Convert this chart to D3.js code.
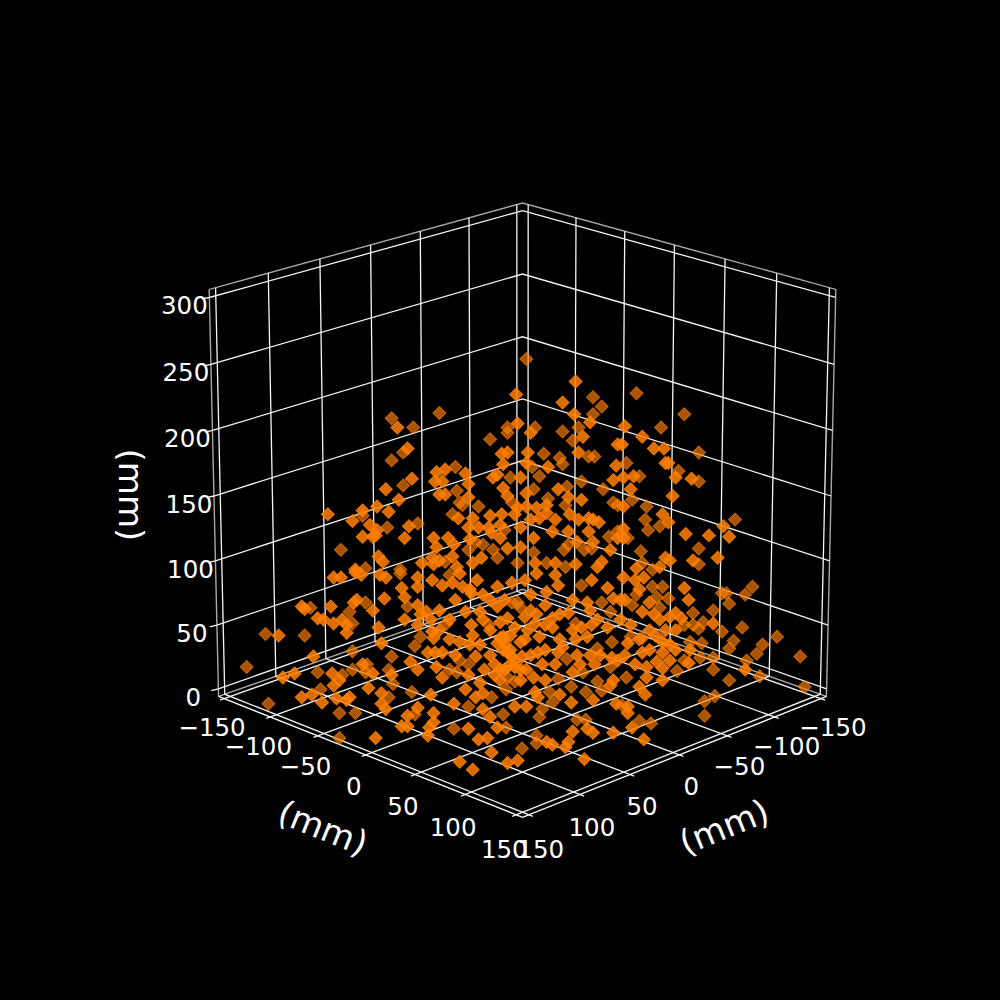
<!DOCTYPE html>
<html>
<head>
<meta charset="utf-8">
<script src="https://cdn.jsdelivr.net/npm/d3@7"></script>
<style>
  html, body { margin: 0; padding: 0; background: #000; }
  text { font-family: "DejaVu Sans"; fill: #fff; }
</style>
</head>
<body>
<div id="chart"></div>
<script>
// tick values (mm)
const leftTicks = [-150, -100, -50, 0, 50, 100, 150];
const rightTicks = [-150, -100, -50, 0, 50, 100, 150];
const heightTicks = [0, 50, 100, 150, 200, 250, 300];

// Points. One view cannot give depth, so each point is
// kept as mm across and up the vertical plane through the middle of the box.
// rear = the dimmer points, front = the brighter ones.
const rearAcross = [-90,-75,-82,-90,-57,-82,-110,-72,-93,-125,-108,-84,
  3,49,55,49,-10,-10,9,28,-22,39,35,46,50,15,26,28,7,12,-8,41,-46,56,31,8,-45,18,30,-43,-41,-30,63,66,-7,-48,-12,66,60,32,29,43,48,8,-27,-20,-32,-37,-17,30,17,-3,-53,
  79,112,96,122,72,108,122,81,76,86,85,95,87,147,73,122,82,122,90,83,
  -84,-108,-146,-119,-79,-117,-177,-150,-70,-74,-117,-90,-190,-107,-117,-141,-92,-108,-124,-89,-76,-139,-92,-175,-126,-115,-74,-126,
  -50,41,55,-3,-7,-1,-52,-23,37,61,62,52,31,-43,61,-37,-50,-45,42,25,-5,-10,52,34,44,55,-11,19,-21,21,-37,14,12,-13,38,44,-11,-47,10,10,0,
  159,154,141,138,143,97,90,93,101,79,76,95,118,132,112,125,122,118,152,138,176,146,166,143,162,192,116,124,83,75,123,132,112,107,132,155,164,143,72,195,133,126,126,69,81,89];
const rearRise = [208,201,182,176,212,157,134,128,125,108,94,93,
  253,224,217,211,201,197,201,198,192,201,191,179,179,181,178,173,171,164,163,160,171,154,156,154,153,147,142,144,142,141,144,142,144,135,123,122,118,112,108,108,109,106,112,108,114,108,102,95,98,98,99,
  227,211,201,182,174,168,160,164,146,141,131,126,123,131,117,109,107,97,93,98,
  90,68,64,61,65,52,44,43,42,35,31,27,19,21,17,15,17,15,13,6,0,2,-4,-9,-16,-16,-17,-35,
  89,81,68,68,68,64,52,51,52,61,38,33,25,24,19,21,17,15,15,10,8,11,8,4,0,1,2,0,-4,-8,-11,-13,-19,-17,-21,-21,-27,-28,-33,-39,-43,
  80,74,75,75,67,80,80,72,71,74,66,64,60,62,51,53,48,51,49,46,42,39,36,33,29,27,38,37,41,42,26,26,24,16,17,24,12,9,11,4,-3,-7,-18,-10,-22,-24];
const frontAcross = [-86,-79,-76,-94,-59,-60,-57,-85,-100,-110,-92,-134,-117,-78,-105,-100,-101,-110,-103,-81,-61,-59,-99,-96,-115,-69,-62,-61,
  37,-4,28,36,47,-3,6,42,66,-10,-14,4,39,-13,18,3,65,-17,-20,-1,63,-53,-39,-55,-37,25,-13,3,-10,-53,-37,32,41,17,3,10,-3,-5,-14,-22,-34,-44,-37,-30,12,33,17,39,46,53,49,-23,-1,21,32,46,66,38,49,8,-21,-15,-51,-47,-10,-1,-48,-28,9,23,37,55,52,-34,-45,
  71,83,91,98,69,101,99,106,117,77,70,75,104,70,97,101,139,113,129,143,70,70,135,118,102,99,95,79,
  -130,-125,-115,-111,-98,-94,-72,-83,-81,-72,-62,-95,-114,-116,-132,-152,-150,-103,-72,-66,-141,-137,-81,-124,-130,-121,-99,-72,-168,-121,-62,-61,-97,-144,-65,-60,-110,-77,-72,-59,-103,-131,-90,-165,-157,-126,-130,-106,-63,-152,-145,-97,-128,-119,-121,-138,-97,-94,-72,-61,-79,-83,-79,-64,-61,-65,-101,
  -43,-31,-48,-55,-35,-27,-41,-17,-7,2,10,23,25,17,6,35,48,45,59,63,-17,16,-35,-27,-15,-10,2,10,9,21,26,32,52,48,59,41,45,35,21,-5,4,-50,-43,-34,-15,-13,-17,-1,12,28,25,38,11,54,-55,-32,-13,-7,0,62,66,-37,-55,-19,-12,-5,3,14,35,8,-29,-15,63,61,-39,26,9,11,-27,-32,34,49,65,-47,-27,-22,-5,3,-17,45,49,-37,35,17,21,32,30,63,-30,-24,-21,-43,-34,-10,-3,43,
  -13,-10,-5,-10,-15,-1,-12,-8,
  112,115,84,78,70,71,88,83,91,102,106,110,132,97,102,73,83,97,106,115,102,93,86,97,154,97,86,81,85,73,73,76,84,
  -36,-22,-46,-57,-39,-29,-12,6,16,47,68,75,81,88,92,71,78,26,37,47,-29,-22,-36,-46,-63,-70,-57,-50,-19,-26,-1,16,23,40,50,2,6,16,-8,-22,-57,-36,-15,6,23,61,81,95,88,106,99,116,68];
const frontRise = [201,185,162,154,167,160,150,146,141,138,137,135,130,126,127,123,119,118,118,117,117,110,103,99,93,98,102,97,
  236,226,220,211,205,204,197,194,188,182,181,182,182,173,171,174,172,165,163,163,161,169,166,160,158,154,155,151,149,150,148,148,146,142,141,140,140,135,135,134,132,132,125,125,132,135,136,131,132,129,131,125,125,122,122,122,117,114,114,117,121,117,117,112,109,110,103,102,98,98,97,99,95,98,95,
  202,194,185,185,188,174,174,163,162,164,163,154,149,141,135,129,126,120,119,118,124,117,102,100,100,102,95,94,
  87,87,91,89,89,87,87,79,72,80,85,71,70,68,65,65,63,62,66,61,56,55,55,55,52,51,49,51,43,45,46,41,37,27,30,30,21,23,17,19,14,14,13,11,14,9,5,3,-2,-4,-2,-1,-5,-4,-6,-8,-9,-13,-12,-16,-18,-26,-26,-27,-23,-33,-35,
  90,85,83,81,75,74,80,80,83,85,90,89,81,76,74,70,85,68,79,71,65,66,51,55,53,56,57,59,52,56,59,60,55,51,49,49,42,47,49,49,47,40,38,43,41,42,37,38,42,34,30,28,30,28,30,27,32,27,27,26,24,13,11,13,17,19,17,21,15,11,7,9,9,5,2,-2,0,-4,-1,-4,-8,-6,-9,-9,-13,-19,-11,-11,-27,-28,-31,-28,-30,-38,-40,-38,-42,-31,-36,-35,-46,-53,-59,-54,-52,-51,
  40,30,24,19,17,17,36,32,
  79,70,87,85,87,70,68,61,59,57,60,56,52,38,36,37,30,30,32,22,24,23,19,18,17,9,11,4,-2,-11,-16,-27,-36,
  78,70,70,62,61,61,70,62,51,62,55,51,40,32,43,28,21,40,40,28,36,28,36,28,55,59,47,55,21,17,9,9,21,21,21,40,28,32,43,47,100,116,127,131,131,108,78,55,47,47,47,32,70];

const width = 1000, height = 1000;
const svg = d3.select("#chart").append("svg")
    .attr("width", width).attr("height", height)
    .style("display", "block");
svg.append("rect").attr("width", width).attr("height", height).attr("fill", "#000");

// mm -> box coordinates
const pScale = d3.scaleLinear().domain([-156, 156]).range([-0.46, 0.46]);
const qScale = d3.scaleLinear().domain([-156, 156]).range([-0.46, 0.46]);
const zScale = d3.scaleLinear().domain([-6, 306]).range([-0.455, 0.455]);

const elev = 19.5 * Math.PI / 180, camDist = 10, focal = 4743, cx = 522.5, cy = 496;

// p runs to the lower left edge, q to the lower right edge
function project(p, q, z) {
    const a = pScale(p), b = qScale(q), c = zScale(z);
    const u = (a - b) / Math.SQRT2, d = (a + b) / Math.SQRT2;
    const up = c * Math.cos(elev) - d * Math.sin(elev);
    const toCam = d * Math.cos(elev) + c * Math.sin(elev);
    const s = focal / (camDist - toCam);
    return [cx + u * s, cy - up * s];
}

const lineGen = d3.line();
function path3(pts, stroke, sw) {
    svg.append("path")
        .attr("d", lineGen(pts.map(d => project(d[0], d[1], d[2]))))
        .attr("fill", "none").attr("stroke", stroke).attr("stroke-width", sw);
}

const pLo = pScale.domain()[0], pHi = pScale.domain()[1];
const qLo = qScale.domain()[0], qHi = qScale.domain()[1];
const zLo = zScale.domain()[0], zHi = zScale.domain()[1];

// pane edges
const paneColor = "#a8a8a8";
path3([[pLo, qHi, zLo], [pLo, qHi, zHi], [pLo, qLo, zHi], [pHi, qLo, zHi], [pHi, qLo, zLo]], paneColor, 1.4);
path3([[pLo, qHi, zLo], [pLo, qLo, zLo], [pHi, qLo, zLo]], paneColor, 1.4);

// grid
const gridColor = "#f4f4f4";
const gridWidth = 1.3;
leftTicks.forEach(t => {
    path3([[t, qHi + 4, zLo], [t, qLo, zLo], [t, qLo, zHi]], gridColor, gridWidth);
});
rightTicks.forEach(t => {
    path3([[pHi + 4, t, zLo], [pLo, t, zLo], [pLo, t, zHi]], gridColor, gridWidth);
});
heightTicks.forEach(t => {
    path3([[pLo - 1, qHi + 6, t], [pLo, qHi, t], [pLo, qLo, t], [pHi, qLo, t]], gridColor, gridWidth);
});

// axis lines along the front
path3([[pLo, qHi, zLo], [pHi, qHi, zLo], [pHi, qLo, zLo]], "#fff", 1.3);

// scatter, dim points first
const acrossScale = d3.scaleLinear().domain([-100, 100]).range([377.1, 666.9]);
const riseScale = d3.scaleLinear().domain([0, 300]).range([692, 297.2]);
const diamond = d3.symbol().type(d3.symbolSquare).size(85)();

function drawPoints(across, rise, alpha) {
    svg.append("g").selectAll("path")
        .data(across.map((a, i) => [a, rise[i]]))
        .join("path")
        .attr("d", diamond)
        .attr("transform", d => `translate(${acrossScale(d[0])},${riseScale(d[1])}) rotate(45)`)
        .attr("fill", "#ff7f00").attr("fill-opacity", alpha)
        .attr("stroke", "#ff7f00").attr("stroke-opacity", alpha).attr("stroke-width", 1);
}
drawPoints(rearAcross, rearRise, 0.66);
drawPoints(frontAcross, frontRise, 0.86);

// tick labels
const tickSize = 24.5;
const tickText = d => String(d).replace("-", "\u2212");
const tickDrop = d3.scaleLinear().domain([-150, 150]).range([30, 36]);
svg.append("g").selectAll("text").data(leftTicks).join("text")
    .attr("x", d => project(d, qHi, zLo)[0] - 12)
    .attr("y", d => project(d, qHi, zLo)[1] + tickDrop(d))
    .attr("text-anchor", "middle").attr("font-size", tickSize).attr("dominant-baseline", "middle")
    .text(tickText);
svg.append("g").selectAll("text").data(rightTicks).join("text")
    .attr("x", d => project(qHi, d, zLo)[0] + 12)
    .attr("y", d => project(qHi, d, zLo)[1] + tickDrop(d))
    .attr("text-anchor", "middle").attr("font-size", tickSize).attr("dominant-baseline", "middle")
    .text(tickText);
svg.append("g").selectAll("text").data(heightTicks).join("text")
    .attr("x", d => project(pLo, qHi, d)[0] - 25)
    .attr("y", d => project(pLo, qHi, d)[1] + 10)
    .attr("text-anchor", "middle").attr("font-size", tickSize).attr("dominant-baseline", "middle")
    .text(d => d);

// axis labels
const labelSize = 34;
svg.append("text").attr("font-size", labelSize).attr("text-anchor", "middle").attr("dominant-baseline", "middle")
    .attr("transform", "translate(322,830) rotate(22)").text("(mm)");
svg.append("text").attr("font-size", labelSize).attr("text-anchor", "middle").attr("dominant-baseline", "middle")
    .attr("transform", "translate(725,829) rotate(-22)").text("(mm)");
svg.append("text").attr("font-size", labelSize).attr("text-anchor", "middle").attr("dominant-baseline", "middle")
    .attr("transform", "translate(128,495) rotate(90)").text("(mm)");
</script>
</body>
</html>
